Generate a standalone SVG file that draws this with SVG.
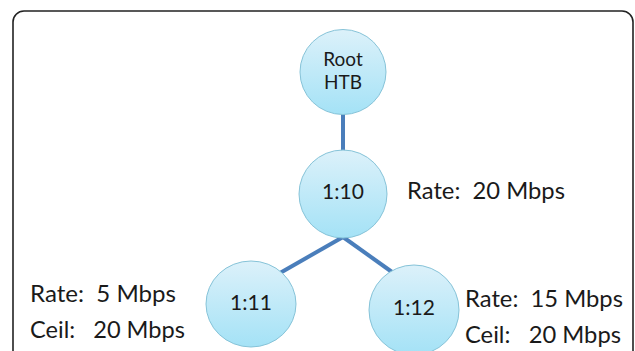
<svg xmlns="http://www.w3.org/2000/svg" width="635" height="351" viewBox="0 0 635 351">
<defs>
<linearGradient id="g" x1="0" y1="0" x2="0" y2="1">
<stop offset="0" stop-color="#dcf1fa"/>
<stop offset="1" stop-color="#a4e2f6"/>
</linearGradient>
<style>
.n{fill:url(#g);stroke:#86c3d8;stroke-width:1}
.t{font-family:Lato,"Liberation Sans",sans-serif;fill:#1a1a1a}
.c{stroke:#4a7ebb;stroke-width:4;fill:none}
</style>
</defs>
<rect width="635" height="351" fill="#fff"/>
<rect x="13" y="11" width="620" height="380" rx="11" fill="none" stroke="#222" stroke-width="1.6"/>
<g id="connectors">
<line class="c" x1="343" y1="114" x2="343" y2="151"/>
<line class="c" x1="343" y1="237" x2="280" y2="273"/>
<line class="c" x1="343" y1="237" x2="392" y2="272"/>
</g>
<g id="root">
<ellipse class="n" cx="343" cy="72" rx="43" ry="42.5"/>
<text class="t" x="343" y="66" font-size="19" text-anchor="middle">Root</text>
<text class="t" x="343" y="89" font-size="19" text-anchor="middle">HTB</text>
</g>
<g id="n110">
<ellipse class="n" cx="343" cy="194" rx="44" ry="44"/>
<text class="t" x="343" y="199" font-size="21" text-anchor="middle">1:10</text>
</g>
<g id="n111">
<ellipse class="n" cx="251" cy="304" rx="45" ry="43"/>
<text class="t" x="251" y="310" font-size="21" text-anchor="middle">1:11</text>
</g>
<g id="n112">
<ellipse class="n" cx="414" cy="310" rx="45" ry="45"/>
<text class="t" x="414" y="315" font-size="21" text-anchor="middle">1:12</text>
</g>
<g id="labels">
<text class="t" x="407" y="199" font-size="24" textLength="158" lengthAdjust="spacingAndGlyphs" xml:space="preserve">Rate:  20 Mbps</text>
<text class="t" x="30" y="302" font-size="24" textLength="146" lengthAdjust="spacingAndGlyphs" xml:space="preserve">Rate:  5 Mbps</text>
<text class="t" x="30" y="338" font-size="24" textLength="155" lengthAdjust="spacingAndGlyphs" xml:space="preserve">Ceil:   20 Mbps</text>
<text class="t" x="465" y="307" font-size="24" textLength="158" lengthAdjust="spacingAndGlyphs" xml:space="preserve">Rate:  15 Mbps</text>
<text class="t" x="465" y="343" font-size="24" textLength="156" lengthAdjust="spacingAndGlyphs" xml:space="preserve">Ceil:   20 Mbps</text>
</g>
</svg>
